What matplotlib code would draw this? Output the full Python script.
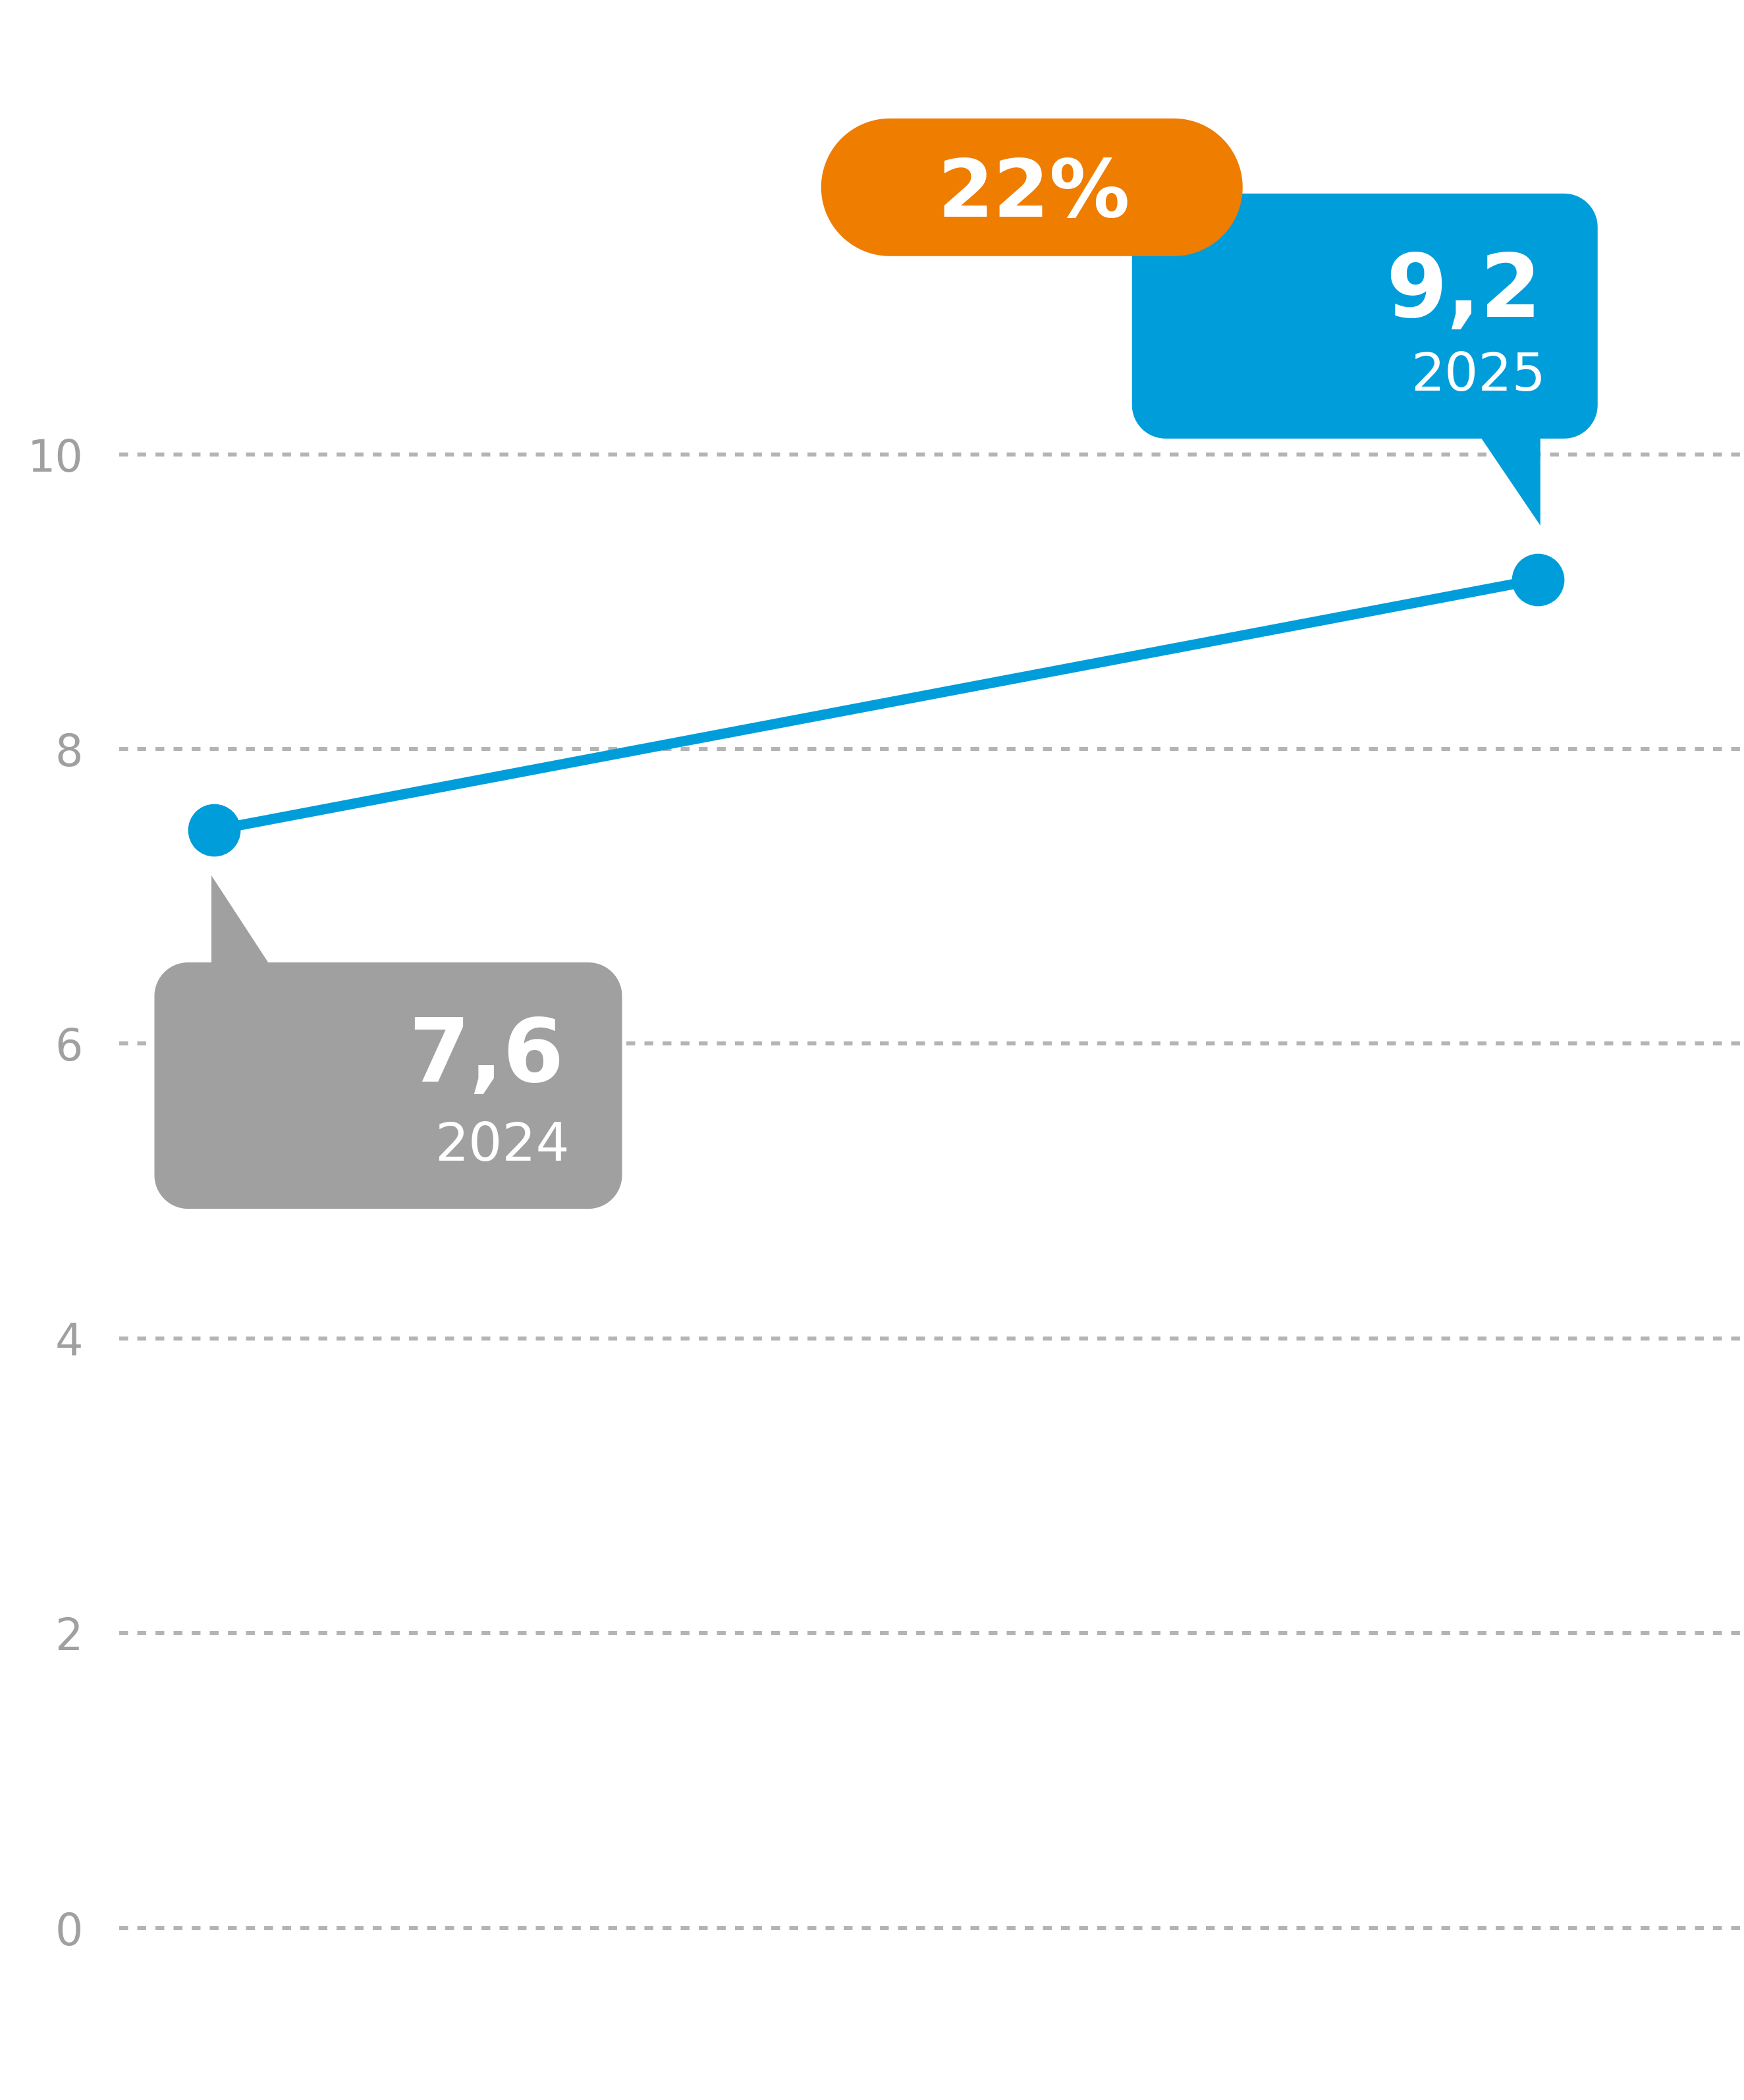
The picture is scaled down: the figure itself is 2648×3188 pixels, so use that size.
import matplotlib
matplotlib.use("Agg")
import matplotlib.pyplot as plt
import numpy as np
from matplotlib.patches import Polygon
from matplotlib.transforms import IdentityTransform

# data
years = ['2024', '2025']
values = [7.45, 9.15]          # where the points sit on the axis
value_labels = ['7,6', '9,2']  # what the callouts print
change_label = '22%'
yticks = [0, 2, 4, 6, 8, 10]

BLUE = '#009DDB'
GREY = '#A0A0A0'
ORANGE = '#EF7D00'
GRID = '#B4B4B4'

W, H, DPI = 2648, 3188, 200
fig = plt.figure(figsize=(W / DPI, H / DPI), dpi=DPI)
plt.rcParams['font.family'] = ['DejaVu Sans']

ax = fig.add_axes([181 / W, 0, 1 - 181 / W, 1])
ax.set_xlim(-0.0719, 1.1559)
ax.set_ylim(-1.1686, 13.083)
for s in ax.spines.values():
    s.set_visible(False)
ax.set_xticks([])
ax.set_yticks(yticks)
ax.set_yticklabels([str(t) for t in yticks], fontsize=24, color=GREY)
ax.tick_params(axis='y', length=0, pad=19.8)
ax.yaxis.grid(True, color=GRID, linewidth=2.2, linestyle=(0, (2.2, 2.3)))
ax.set_axisbelow(True)

xs = list(range(len(years)))
ax.plot(xs, values, color=BLUE, lw=5.6, marker='o', ms=27.7, zorder=3, clip_on=False)

ident = IdentityTransform()


def anchor(i):
    # point position in top-down pixels
    px, py = ax.transData.transform((xs[i], values[i]))
    return px, H - py


def round_rect(x0, y0, x1, y1, r, color, z=4):
    # x0,y0 top-left / x1,y1 bottom-right, top-down pixels, circular corners
    pts = []
    corners = [(x1 - r, y0 + r, -90, 0), (x1 - r, y1 - r, 0, 90),
               (x0 + r, y1 - r, 90, 180), (x0 + r, y0 + r, 180, 270)]
    for cx, cy, a0, a1 in corners:
        t = np.radians(np.linspace(a0, a1, 30))
        for tt in t:
            pts.append((cx + r * np.cos(tt), H - (cy + r * np.sin(tt))))
    ax.add_patch(Polygon(pts, closed=True, fc=color, ec='none',
                         transform=ident, zorder=z, clip_on=False))


def box(ax0, ay0, dx0, dy0, dx1, dy1, r, color, z=4):
    round_rect(ax0 + dx0, ay0 + dy0, ax0 + dx1, ay0 + dy1, r, color, z)


def tri(ax0, ay0, pts, color):
    p = Polygon([(ax0 + dx, H - (ay0 + dy)) for dx, dy in pts], closed=True,
                fc=color, ec='none', transform=ident, zorder=4, clip_on=False)
    ax.add_patch(p)


def label(ax0, ay0, dx, dy, s, size, weight, ha='right'):
    ax.text(ax0 + dx, H - (ay0 + dy), s, transform=ident, ha=ha, va='baseline',
            color='white', fontsize=size, fontweight=weight, zorder=6)


# 2024 callout (below the point)
a0x, a0y = anchor(0)
box(a0x, a0y, -91, 201, 619, 575, 51, GREY)
tri(a0x, a0y, [(-4, 69), (-4, 210), (88, 210)], GREY)
label(a0x, a0y, 531, 382, value_labels[0], 48, 'bold')
label(a0x, a0y, 539, 502, years[0], 29, 'normal')

# 2025 callout (above the point)
a1x, a1y = anchor(1)
box(a1x, a1y, -616, -586, 91, -214, 51, BLUE)
tri(a1x, a1y, [(-88, -218), (4, -82), (4, -218)], BLUE)
label(a1x, a1y, 6, -399, value_labels[1], 48, 'bold')
label(a1x, a1y, 12, -287, years[1], 29, 'normal')

# change pill
box(a1x, a1y, -1088, -700, -448, -491, 104.5, ORANGE, z=5)
label(a1x, a1y, -765, -551, change_label, 44, 'bold', ha='center')

fig.savefig('out.png', dpi=DPI)
